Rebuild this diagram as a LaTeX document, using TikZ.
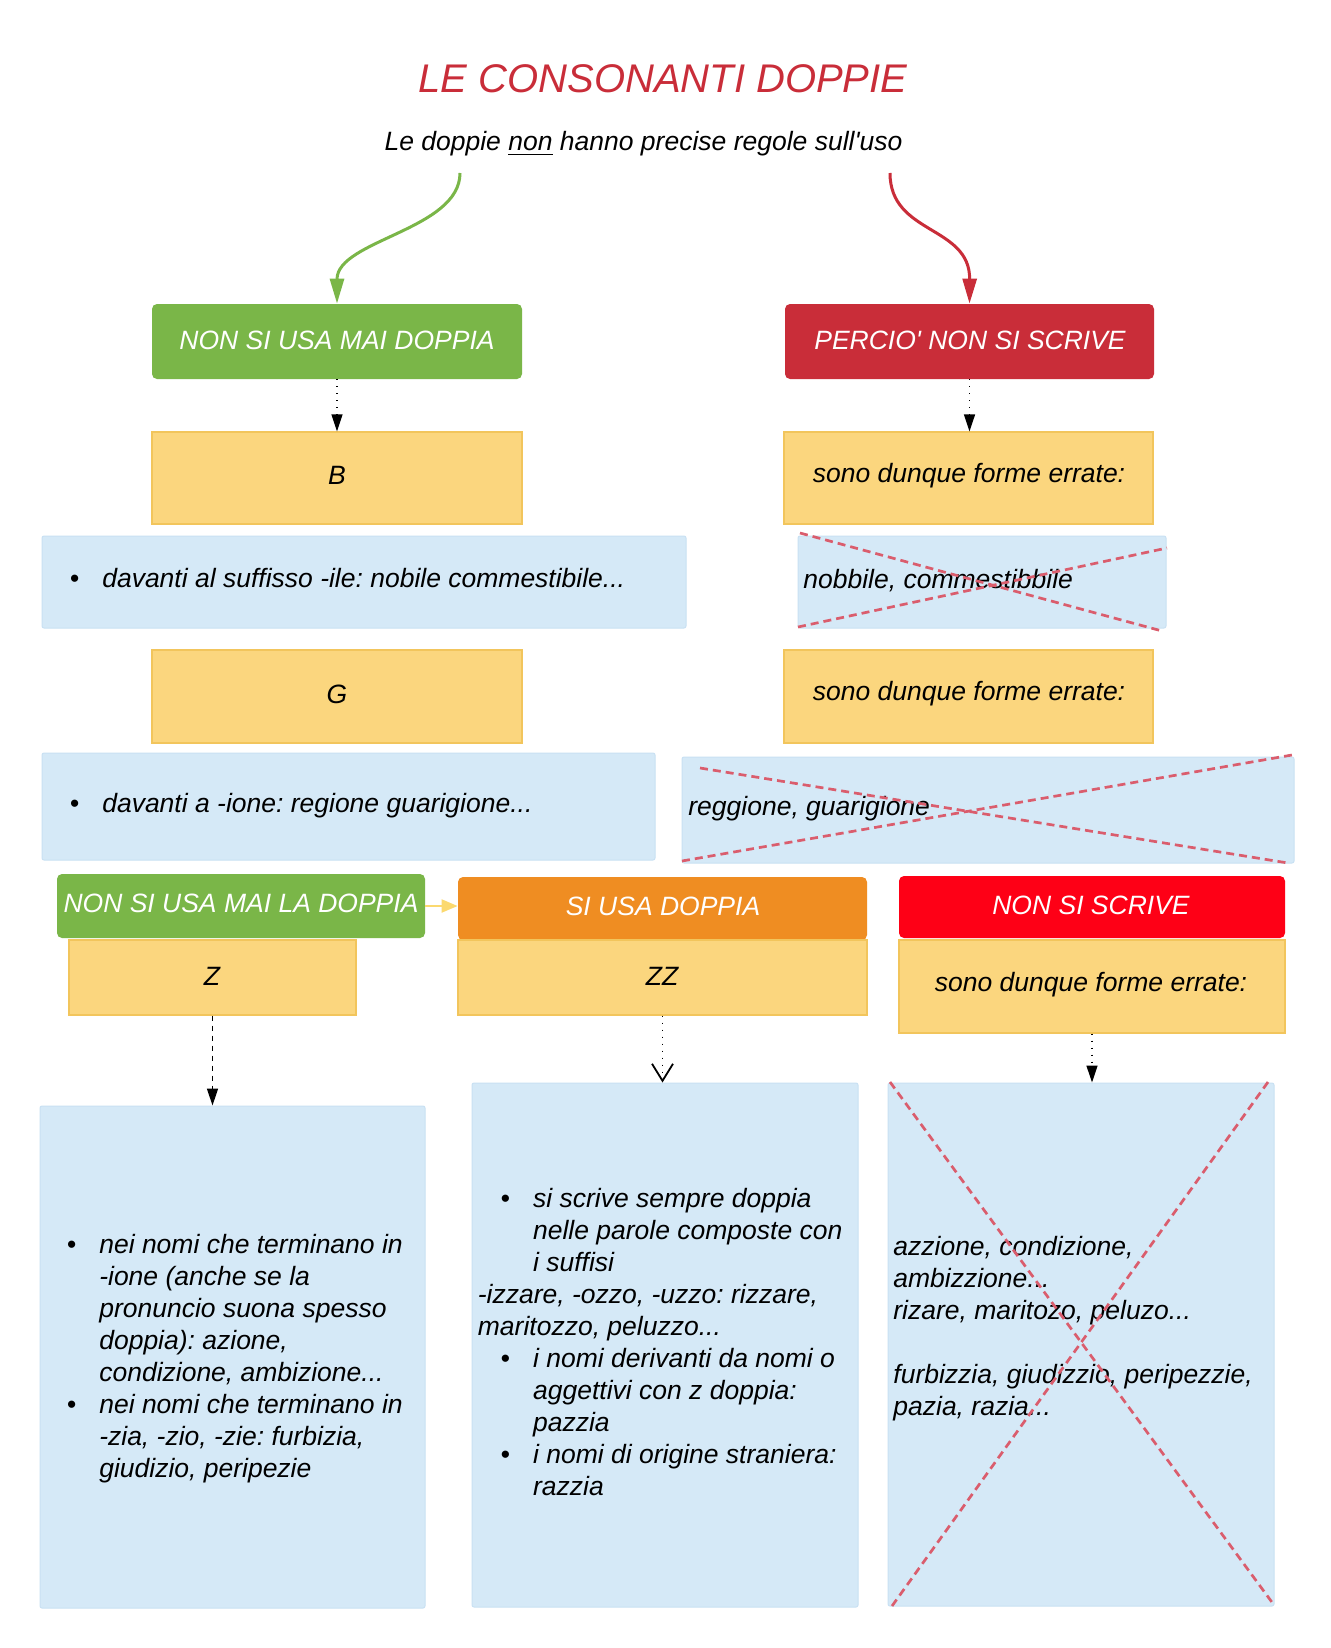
\documentclass[tikz,border=0pt]{standalone}
\usepackage{fontspec}
\setmainfont{Liberation Sans}
\usetikzlibrary{fit,arrows.meta}
\definecolor{cgreen}{HTML}{7AB648}
\definecolor{cred}{HTML}{C92D39}
\definecolor{corange}{HTML}{EF8D22}
\definecolor{cbright}{HTML}{FE0016}
\definecolor{cyel}{HTML}{FBD67E}
\definecolor{cyelb}{HTML}{F2C55C}
\definecolor{cblue}{HTML}{D5E9F7}
\definecolor{cblueb}{HTML}{C9E1F3}
\definecolor{cx}{HTML}{DA5D6D}
\definecolor{carrowy}{HTML}{FBD96F}
\newcommand{\bodyfont}{\fontsize{13.25pt}{16.05pt}\selectfont\itshape}
\newcommand{\bul}{\makebox[16.2pt][l]{\textbullet}}
\newcommand{\lns}[1]{\vtop{\baselineskip=16.05pt\lineskiplimit=-20pt #1}}
\newcommand{\li}[1]{\hbox{#1}}
\frenchspacing
\begin{document}
\begin{tikzpicture}[x=0.5pt,y=-0.5pt,
  hdr/.style={rounded corners=2.5pt, inner sep=0pt},
  ybox/.style={fill=cyel, draw=cyelb, line width=0.6pt, inner sep=0pt},
  bbox/.style={fill=cblue, draw=cblueb, line width=0.5pt, rounded corners=1pt, inner sep=0pt},
  txt/.style={font=\bodyfont, inner sep=0pt},
  htxt/.style={font=\bodyfont, text=white, inner sep=0pt},
  tl/.style={font=\bodyfont, inner sep=0pt, anchor=base west},
  xline/.style={draw=cx, line width=1.35pt, dash pattern=on 4pt off 2.5pt},
  dotarrow/.style={draw=black, line width=0.7pt, dash pattern=on 0.5pt off 3pt, -{Triangle[length=8.5pt,width=5.5pt]}},
  dasharrow/.style={draw=black, line width=0.7pt, dash pattern=on 2.5pt off 2.5pt, -{Triangle[length=8.5pt,width=5.5pt]}},
  openarrow/.style={draw=black, line width=0.7pt, dash pattern=on 0.5pt off 3pt, -{Straight Barb[length=8.5pt,width=10.5pt,line width=0.9pt]}},
  curvearrow/.style={line width=1.5pt, -{Triangle[length=12.5pt,width=7pt]}},
  yarrow/.style={draw=carrowy, line width=1pt, -{Triangle[length=8pt,width=6.5pt]}}
]
\useasboundingbox (0,0) rectangle (1330,1648);
\fill[white] (0,0) rectangle (1330,1648);

% title
\node[font=\fontsize{20pt}{24pt}\selectfont\itshape, text=cred, anchor=base, inner sep=0pt] (title) at (663,93) {LE CONSONANTI DOPPIE};
\node[txt, anchor=base] (sub) at (643.5,151) {Le doppie \underline{non} hanno precise regole sull\textquotesingle uso};

% top headers
\node[hdr, fill=cgreen, fit={(152,304) (522,379)}] (g1) {};
\node[htxt] (g1t) at (337,340) {NON SI USA MAI DOPPIA};
\node[hdr, fill=cred, fit={(785,304) (1154,379)}] (r1) {};
\node[htxt] (r1t) at (970,340) {PERCIO\textquotesingle{} NON SI SCRIVE};

\coordinate (gstart) at (460,173);
\coordinate (rstart) at (890,173);
\draw[curvearrow, draw=cgreen] (gstart) .. controls (460,230) and (337,240) .. (g1.north);
\draw[curvearrow, draw=cred] (rstart) .. controls (890,235) and (970,225) .. (r1.north);

% row B
\node[ybox, fit={(152,432) (522,524)}] (yB) {};
\node[txt] (yBt) at (337,475) {B};
\node[ybox, fit={(784,432) (1153,524)}] (yR1) {};
\node[txt] (yR1t) at (969,476) {sono dunque forme errate:};
\draw[dotarrow] (g1.south) -- (yB.north);
\draw[dotarrow] (r1.south) -- (r1.south |- yR1.north);

\node[bbox, fit={(42,536) (686,628)}] (b1) {};
\node[tl] (b1t) at (69.5,587) {\bul davanti al suffisso -ile: nobile commestibile...};
\node[bbox, fit={(798,536) (1166,628)}] (c1) {};
\node[tl] (c1t) at (803,588) {nobbile, commestibbile};
\draw[xline] (800,533) -- (1162,631);
\draw[xline] (798,627) -- (1167,548);

% row G
\node[ybox, fit={(152,650) (522,743)}] (yG) {};
\node[txt] (yGt) at (337,694) {G};
\node[ybox, fit={(784,650) (1153,743)}] (yR2) {};
\node[txt] (yR2t) at (969,694) {sono dunque forme errate:};

\node[bbox, fit={(42,753) (655,860)}] (b2) {};
\node[tl] (b2t) at (69.5,812) {\bul davanti a -ione: regione guarigione...};
\node[bbox, fit={(682,757) (1294,863)}] (c2) {};
\node[tl] (c2t) at (688,815) {reggione, guarigione};
\draw[xline] (700,768) -- (1288,863);
\draw[xline] (682,861) -- (1292,755);

% row 3 headers
\node[hdr, fill=cgreen, fit={(57,874) (425,938)}] (g2) {};
\node[htxt] (g2t) at (241,903) {NON SI USA MAI LA DOPPIA};
\node[hdr, fill=corange, fit={(458,877) (867,940)}] (o1) {};
\node[htxt] (o1t) at (663,906) {SI USA DOPPIA};
\node[hdr, fill=cbright, fit={(899,876) (1285,938)}] (r2) {};
\node[htxt] (r2t) at (1091,905) {NON SI SCRIVE};
\draw[yarrow] (g2.east) -- (g2.east -| o1.west);

\node[ybox, fit={(69,940) (356,1015)}] (yZ) {};
\node[txt] (yZt) at (212,976) {Z};
\node[ybox, fit={(458,940) (867,1015)}] (yZZ) {};
\node[txt] (yZZt) at (662,976) {ZZ};
\node[ybox, fit={(899,940) (1285,1033)}] (yR3) {};
\node[txt] (yR3t) at (1091,985) {sono dunque forme errate:};

% bottom boxes
\node[bbox, fit={(40,1106) (425,1608)}] (bL) {};
\node[bbox, fit={(472,1083) (858,1607)}] (bM) {};
\node[bbox, fit={(888,1083) (1274,1606)}] (bR) {};

\draw[dasharrow] (yZ.south) -- (yZ.south |- bL.north);
\draw[openarrow] (yZZ.south) -- (yZZ.south |- bM.north);
\draw[dotarrow] (yR3.south) -- (yR3.south |- bR.north);

\node[tl] (bLt) at (66.5,1253) {\lns{%
\li{\bul nei nomi che terminano in}%
\li{\hspace*{16.2pt}-ione (anche se la}%
\li{\hspace*{16.2pt}pronuncio suona spesso}%
\li{\hspace*{16.2pt}doppia): azione,}%
\li{\hspace*{16.2pt}condizione, ambizione...}%
\li{\bul nei nomi che terminano in}%
\li{\hspace*{16.2pt}-zia, -zio, -zie: furbizia,}%
\li{\hspace*{16.2pt}giudizio, peripezie}}};

\node[tl] (bMt) at (477.5,1207) {\lns{%
\li{\hspace*{11.4pt}\bul si scrive sempre doppia}%
\li{\hspace*{27.6pt}nelle parole composte con}%
\li{\hspace*{27.6pt}i suffisi}%
\li{-izzare, -ozzo, -uzzo: rizzare,}%
\li{maritozzo, peluzzo...}%
\li{\hspace*{11.4pt}\bul i nomi derivanti da nomi o}%
\li{\hspace*{27.6pt}aggettivi con z doppia:}%
\li{\hspace*{27.6pt}pazzia}%
\li{\hspace*{11.4pt}\bul i nomi di origine straniera:}%
\li{\hspace*{27.6pt}razzia}}};

\node[tl] (bRt) at (893,1255) {\lns{%
\li{azzione, condizione,}%
\li{ambizzione...}%
\li{rizare, maritozo, peluzo...}%
\li{}%
\li{furbizzia, giudizzio, peripezzie,}%
\li{pazia, razia...}}};
\draw[xline] (890,1082) -- (1274,1605);
\draw[xline] (1268,1082) -- (892,1606);
\end{tikzpicture}
\end{document}
